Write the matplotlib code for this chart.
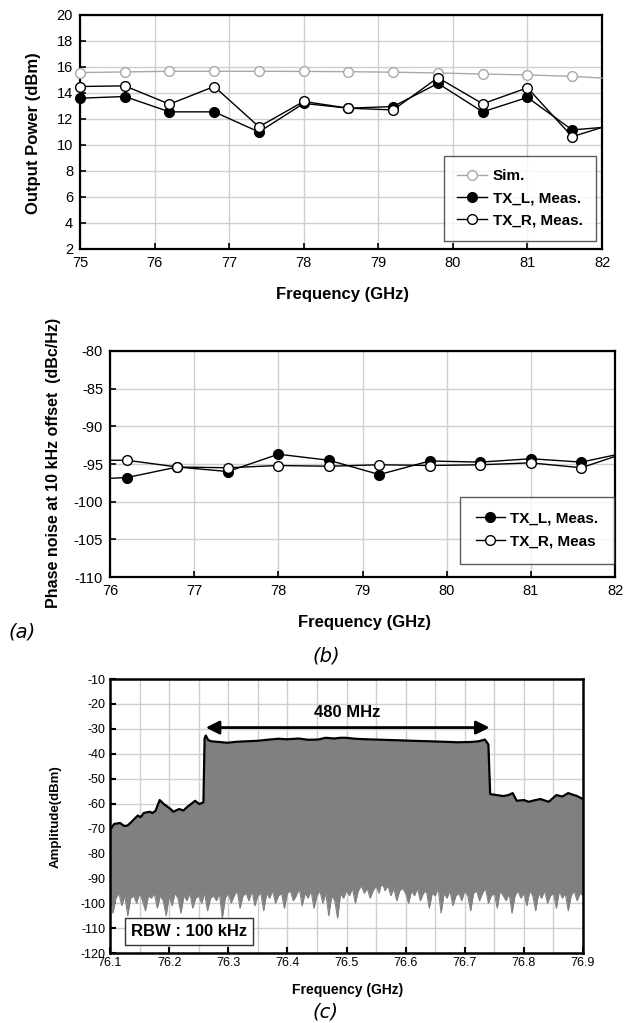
import numpy as np
import matplotlib
matplotlib.use("Agg")
import matplotlib.pyplot as plt
from matplotlib.ticker import MultipleLocator

plt.rcParams['font.family'] = ['Liberation Sans', 'DejaVu Sans']
plt.rcParams['axes.unicode_minus'] = False

# ---------------- data (a) output power ----------------
freq_a = [75.0, 75.6, 76.2, 76.8, 77.4, 78.0, 78.6, 79.2, 79.8, 80.4, 81.0, 81.6, 82.0]
sim_a = [15.57, 15.62, 15.67, 15.67, 15.67, 15.66, 15.64, 15.6, 15.54, 15.46, 15.39, 15.28, 15.15]
txl_a = [13.6, 13.73, 12.55, 12.55, 11.0, 13.2, 12.83, 12.96, 14.74, 12.55, 13.66, 11.16, 11.35]
txr_a = [14.5, 14.55, 13.14, 14.5, 11.4, 13.35, 12.83, 12.7, 15.18, 13.17, 14.4, 10.64, 11.35]
legend_a = ["Sim.", "TX_L, Meas.", "TX_R, Meas."]

# ---------------- data (b) phase noise ----------------
freq_b = [76.0, 76.2, 76.8, 77.4, 78.0, 78.6, 79.2, 79.8, 80.4, 81.0, 81.6, 82.0]
txl_b = [-96.9, -96.8, -95.4, -96.0, -93.7, -94.5, -96.4, -94.6, -94.75, -94.3, -94.75, -93.8]
txr_b = [-94.5, -94.5, -95.4, -95.5, -95.2, -95.3, -95.1, -95.2, -95.1, -94.85, -95.5, -94.0]
legend_b = ["TX_L, Meas.", "TX_R, Meas"]

# ---------------- data (c) spectrum ----------------
env_f = [76.100, 76.107, 76.117, 76.124, 76.130, 76.137, 76.147, 76.152, 76.157, 76.167,
         76.172, 76.177, 76.184, 76.191, 76.201, 76.207, 76.217, 76.224, 76.231, 76.244,
         76.251, 76.258, 76.260, 76.262, 76.266, 76.271, 76.285, 76.298, 76.315, 76.332,
         76.350, 76.370, 76.385, 76.400, 76.419, 76.435, 76.452, 76.465, 76.479, 76.490,
         76.499, 76.515, 76.533, 76.560, 76.587, 76.610, 76.640, 76.665, 76.687, 76.710,
         76.724, 76.734, 76.740, 76.743, 76.754, 76.765, 76.774, 76.781, 76.788, 76.800,
         76.808, 76.818, 76.828, 76.842, 76.855, 76.865, 76.875, 76.882, 76.889, 76.900]
env_db = [-70.6, -68.2, -67.8, -69.0, -68.8, -67.2, -64.8, -65.5, -63.8, -63.3,
          -63.8, -62.9, -58.6, -60.2, -61.9, -63.3, -62.2, -62.8, -61.3, -58.9,
          -60.2, -59.5, -33.9, -32.7, -34.5, -35.0, -35.3, -35.6, -35.2, -35.0,
          -34.8, -34.3, -34.0, -34.2, -33.9, -34.4, -34.3, -33.6, -33.9, -33.6,
          -33.6, -34.0, -34.2, -34.4, -34.6, -34.8, -35.0, -35.2, -35.4, -35.3,
          -35.0, -34.3, -36.3, -56.2, -56.6, -57.0, -56.6, -55.8, -58.9, -58.6,
          -59.3, -58.7, -58.2, -59.3, -56.6, -57.2, -55.8, -56.4, -56.9, -58.2]

floor_start, floor_step = 76.10, 0.005
floor_db = [
    -97, -104, -98, -96, -101, -97, -105, -98, -97, -100, -96, -99, -103, -97, -98, -96, -102, -97, -99, -105,
    -97, -101, -96, -98, -104, -97, -99, -96, -102, -98, -97, -100, -96, -103, -98, -97, -99, -96, -106, -98,
    -96, -100, -97, -95, -102, -97, -96, -99, -95, -101, -97, -96, -103, -96, -98, -95, -100, -97, -96, -102,
    -96, -95, -99, -97, -94, -101, -96, -98, -95, -102, -97, -95, -100, -96, -105, -97, -99, -106, -96, -98,
    -95, -97, -94, -100, -95, -93, -96, -94, -98, -95, -93, -96, -91, -95, -93, -97, -94, -99, -95, -94,
    -96, -100, -95, -97, -94, -99, -96, -95, -102, -96, -97, -94, -104, -96, -98, -95, -101, -97, -96, -99,
    -95, -97, -103, -96, -95, -99, -96, -94, -100, -97, -96, -102, -95, -97, -99, -96, -104, -97, -95, -98,
    -96, -101, -95, -97, -103, -96, -98, -95, -100, -97, -96, -102, -95, -98, -96, -103, -97, -95, -99, -96,
    -97]
floor_f = [floor_start + floor_step * i for i in range(len(floor_db))]

bw_start, bw_end = 76.262, 76.742
bw_label = "480 MHz"
rbw_label = "RBW : 100 kHz"

# ---------------- figure ----------------
W, H = 624, 1023
fig = plt.figure(figsize=(W / 100, H / 100), dpi=100)


def rect(l, r, t, b):
    return [l / W, 1 - b / H, (r - l) / W, (b - t) / H]


def ftext(x, y, s, **kw):
    fig.text(x / W, 1 - y / H, s, ha='center', va='center', **kw)


def style_axes(ax, spine_lw=1.6, tick_size=10.5):
    for sp in ax.spines.values():
        sp.set_linewidth(spine_lw)
        sp.set_color('black')
    ax.tick_params(direction='in', length=4, width=1.2, labelsize=tick_size,
                   top=False, right=False, pad=5)
    ax.grid(True, color='#cfcfcf', lw=1.0)
    ax.set_axisbelow(True)


# ---- (a) ----
ax1 = fig.add_axes(rect(80, 602, 15, 249))
style_axes(ax1)
ax1.set_xlim(75, 82)
ax1.set_ylim(2, 20)
ax1.xaxis.set_major_locator(MultipleLocator(1))
ax1.yaxis.set_major_locator(MultipleLocator(2))
ms = 7
ax1.plot(freq_a, sim_a, color='#a8a8a8', lw=1.0, marker='o', ms=ms, mfc='white',
         mec='#a8a8a8', mew=1.0, markevery=slice(0, 12), clip_on=False, label=legend_a[0], zorder=3)
ax1.plot(freq_a, txl_a, color='black', lw=1.0, marker='o', ms=ms, mfc='black',
         mec='black', markevery=slice(0, 12), clip_on=False, label=legend_a[1], zorder=4)
ax1.plot(freq_a, txr_a, color='black', lw=1.0, marker='o', ms=ms, mfc='white',
         mec='black', mew=1.0, markevery=slice(0, 12), clip_on=False, label=legend_a[2], zorder=5)
leg1 = ax1.legend(loc='upper left', bbox_to_anchor=(0.697, 0.398), frameon=True,
                  fancybox=False, edgecolor='#333333', prop={'weight': 'bold', 'size': 11},
                  handlelength=2.0, handletextpad=0.35, borderpad=0.85, labelspacing=0.55,
                  borderaxespad=0)
leg1.get_frame().set_linewidth(1.0)
ftext(34, 133, "Output Power (dBm)", rotation=90, fontsize=12, fontweight='bold')
ftext(342, 295, "Frequency (GHz)", fontsize=12, fontweight='bold')

# ---- (b) ----
ax2 = fig.add_axes(rect(110, 615, 351, 577))
style_axes(ax2)
ax2.set_xlim(76, 82)
ax2.set_ylim(-110, -80)
ax2.xaxis.set_major_locator(MultipleLocator(1))
ax2.yaxis.set_major_locator(MultipleLocator(5))
ax2.plot(freq_b, txl_b, color='black', lw=1.0, marker='o', ms=ms, mfc='black', mec='black',
         markevery=slice(1, 11), label=legend_b[0], zorder=4)
ax2.plot(freq_b, txr_b, color='black', lw=1.0, marker='o', ms=ms, mfc='white', mec='black',
         mew=1.0, markevery=slice(1, 11), label=legend_b[1], zorder=5)
leg2 = ax2.legend(loc='upper left', bbox_to_anchor=(0.694, 0.356), frameon=True,
                  fancybox=False, edgecolor='#333333', prop={'weight': 'bold', 'size': 11},
                  handlelength=1.9, handletextpad=0.35, borderpad=1.0, labelspacing=0.55,
                  borderaxespad=0)
leg2.get_frame().set_linewidth(1.0)
ftext(54, 463, "Phase noise at 10 kHz offset  (dBc/Hz)", rotation=90, fontsize=11.5,
      fontweight='bold')
ftext(364, 622, "Frequency (GHz)", fontsize=12, fontweight='bold')
ftext(22, 632, "(a)", fontsize=14, style='italic', family='DejaVu Sans', fontweight='light')
ftext(326, 656, "(b)", fontsize=14, style='italic', family='DejaVu Sans', fontweight='light')

# ---- (c) ----
ax3 = fig.add_axes(rect(110, 583, 679, 953))
style_axes(ax3, spine_lw=1.8, tick_size=9)
ax3.set_xlim(76.1, 76.9)
ax3.set_ylim(-120, -10)
ax3.xaxis.set_major_locator(MultipleLocator(0.1))
ax3.xaxis.set_minor_locator(MultipleLocator(0.05))
ax3.yaxis.set_major_locator(MultipleLocator(10))
ax3.tick_params(which='minor', length=0)
ax3.tick_params(which='major', length=4, width=1.5, pad=3)
ax3.grid(True, which='minor', axis='x', color='#cfcfcf', lw=1.0)
ax3.set_xticks(ax3.get_xticks())
ax3.set_xticklabels([f"{v:.1f}" for v in ax3.get_xticks()])
ax3.set_xlim(76.1, 76.9)
gray = '#808080'
ax3.fill_between(env_f, env_db, -93, color=gray, lw=0, zorder=2)
ax3.fill_between(floor_f, floor_db, -85, color=gray, lw=0, zorder=2)
ax3.plot(floor_f, floor_db, color=gray, lw=0.8, zorder=2)
ax3.plot(env_f, env_db, color='black', lw=1.6, zorder=3)
ax3.annotate('', xy=(bw_start, -29.5), xytext=(bw_end, -29.5),
             arrowprops=dict(arrowstyle='<|-|>', color='black', lw=2.0,
                             mutation_scale=20, shrinkA=0, shrinkB=0), zorder=4)
ax3.text((bw_start + bw_end) / 2, -23.5, bw_label, ha='center', va='center',
         fontsize=12, fontweight='bold', zorder=4)
ax3.text(0.045, 0.078, rbw_label, transform=ax3.transAxes, ha='left',
         va='center', fontsize=12, fontweight='bold', zorder=5,
         bbox=dict(boxstyle='square,pad=0.35', fc='white', ec='#333333', lw=1.0))
ftext(56, 817, "Amplitude(dBm)", rotation=90, fontsize=9.5, fontweight='bold')
ftext(348, 990, "Frequency (GHz)", fontsize=10, fontweight='bold')
ftext(326, 1012, "(c)", fontsize=14, style='italic', family='DejaVu Sans', fontweight='light')

fig.savefig("out.png", dpi=100, facecolor='white')
